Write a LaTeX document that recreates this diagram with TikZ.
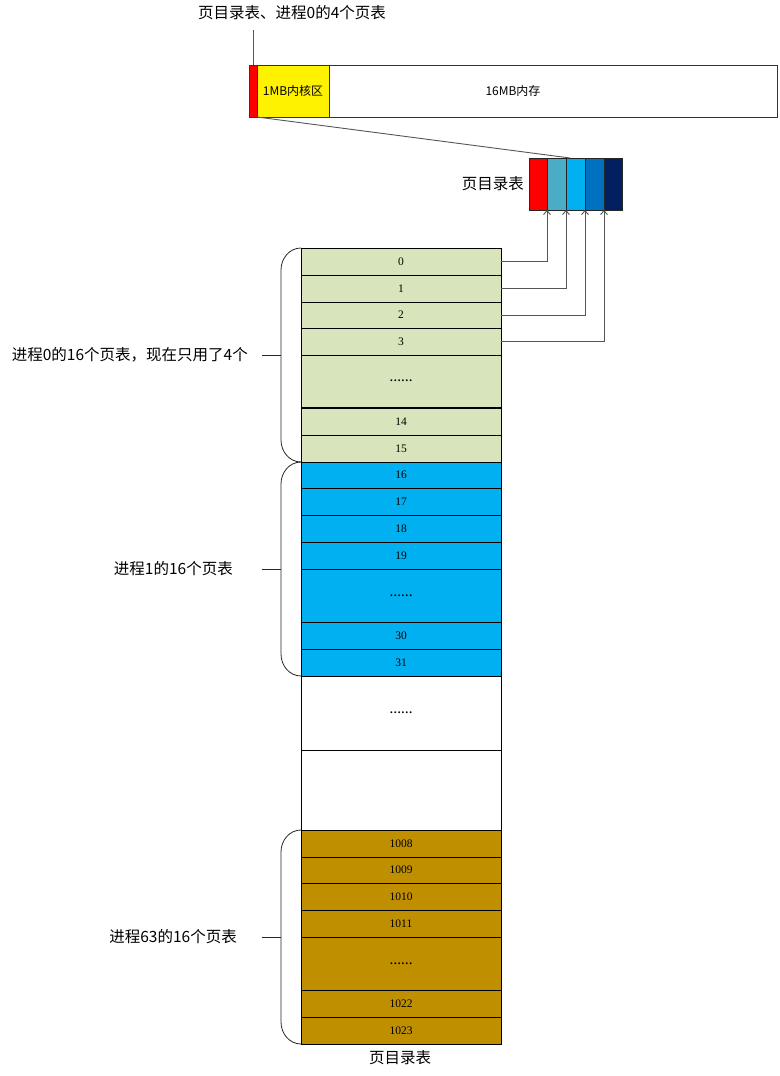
\documentclass[tikz,border=0pt]{standalone}
\usepackage{fontspec}
\setmainfont{Liberation Serif}
\newfontfamily\cjk{Noto Sans CJK SC}
\usetikzlibrary{arrows.meta}
\definecolor{cgreen}{HTML}{D8E4BC}
\definecolor{cblue}{HTML}{00B0F0}
\definecolor{cgold}{HTML}{BF8F00}
\definecolor{dteal}{HTML}{4BACC6}
\definecolor{dmid}{HTML}{0070C0}
\definecolor{dnavy}{HTML}{002060}
\definecolor{lgray}{HTML}{555555}
\tikzset{
  cell/.style={draw=black, line width=0.9pt, minimum width=200pt, inner sep=0pt, outer sep=0pt, font=\fontsize{11.5}{13}\selectfont},
  membox/.style={draw=black!80, line width=0.8pt, inner sep=0pt, outer sep=0pt, minimum height=52pt},
  dirbox/.style={draw=black!85, line width=0.8pt, inner sep=0pt, outer sep=0pt, minimum height=52pt},
  lbl/.style={font=\cjk\fontsize{15.5}{18}\selectfont, inner sep=1pt},
  smalllbl/.style={font=\cjk\fontsize{12}{14}\selectfont, inner sep=0pt},
  conn/.style={draw=lgray, line width=0.9pt},
  brace/.style={draw=black!85, line width=0.8pt},
  arr/.style={conn, -{Straight Barb[length=4pt,width=7pt]}}
}
\newcommand\mkcell[5]{\node[cell, fill=#4, minimum height={(#3-#2)*1pt}] (#1) at (401,{(#2+#3)/2}) {#5};}
\newcommand\celldots{\textbf{……}}
\newcommand\mkbrace[3]{%
  \draw[brace] (#1.north west) to[out=180,in=90] ([xshift=-20pt,yshift=-22pt]#1.north west)
     -- ([xshift=-20pt,yshift=22pt]#2.south west) to[out=-90,in=180] (#2.south west);
  \draw[brace] (#3) -- ++(19,0);}
\begin{document}
\begin{tikzpicture}[x=1pt,y=-1pt]
\useasboundingbox (0,0) rectangle (779,1076);
% top memory bar
\node[lbl] (title) at (292,13) {页目录表、进程0的4个页表};
\node[membox, fill=red, minimum width=8pt] (kred) at (253,91) {};
\node[membox, fill=yellow, minimum width=72pt] (kyel) at (293,91) {};
\node[smalllbl] (kyeltxt) at (293,91) {1MB内核区};
\node[membox, fill=white, minimum width=448pt] (kmem) at (553,91) {};
\node[smalllbl] (kmemtxt) at (513,91) {16MB内存};
\draw[conn] (kred.north) -- ++(0,-35);
% page directory
\node[dirbox, fill=red, minimum width=18pt] (d1) at (538,184) {};
\node[dirbox, fill=dteal, minimum width=19pt] (d2) at (556.5,184) {};
\node[dirbox, fill=cblue, minimum width=19pt] (d3) at (575.5,184) {};
\node[dirbox, fill=dmid, minimum width=19pt] (d4) at (594.5,184) {};
\node[dirbox, fill=dnavy, minimum width=18pt] (d5) at (613,184) {};
\node[lbl, anchor=east] (dirlbl) at (525,184) {页目录表};
\draw[conn] (kred.south east) -- ([xshift=4pt]d3.north west);
% process 0
\mkcell{c0}{248}{275}{cgreen}{0}
\mkcell{c1}{275}{302}{cgreen}{1}
\mkcell{c2}{302}{328}{cgreen}{2}
\mkcell{c3}{328}{355}{cgreen}{3}
\mkcell{c4}{355}{407}{cgreen}{\celldots}
\mkcell{c14}{408}{435}{cgreen}{14}
\mkcell{c15}{435}{462}{cgreen}{15}
% process 1
\mkcell{c16}{462}{488}{cblue}{16}
\mkcell{c17}{488}{515}{cblue}{17}
\mkcell{c18}{515}{542}{cblue}{18}
\mkcell{c19}{542}{569}{cblue}{19}
\mkcell{c20}{569}{622}{cblue}{\celldots}
\mkcell{c30}{622}{649}{cblue}{30}
\mkcell{c31}{649}{676}{cblue}{31}
% gap
\mkcell{cg1}{676}{750}{white}{\celldots}
\mkcell{cg2}{750}{830}{white}{}
% process 63
\mkcell{c1008}{830}{857}{cgold}{1008}
\mkcell{c1009}{857}{883}{cgold}{1009}
\mkcell{c1010}{883}{910}{cgold}{1010}
\mkcell{c1011}{910}{937}{cgold}{1011}
\mkcell{c1012}{937}{990}{cgold}{\celldots}
\mkcell{c1022}{990}{1017}{cgold}{1022}
\mkcell{c1023}{1017}{1044}{cgold}{1023}
\node[lbl] (botlbl) at (400,1058) {页目录表};
% arrows to page directory
\draw[arr] (c0.east) -| (d1.south east);
\draw[arr] (c1.east) -| (d2.south east);
\draw[arr] (c2.east) -| (d3.south east);
\draw[arr] (c3.east) -| (d4.south east);
% braces and labels
\coordinate (b0) at (262,355);
\coordinate (b1) at (262,569);
\coordinate (b63) at (262,937);
\mkbrace{c0}{c15}{b0}
\mkbrace{c16}{c31}{b1}
\mkbrace{c1008}{c1023}{b63}
\node[lbl, anchor=east] (l0) at (249,355) {进程0的16个页表，现在只用了4个};
\node[lbl, anchor=east] (l1) at (234,569) {进程1的16个页表};
\node[lbl, anchor=east] (l63) at (238,937) {进程63的16个页表};
\end{tikzpicture}
\end{document}
